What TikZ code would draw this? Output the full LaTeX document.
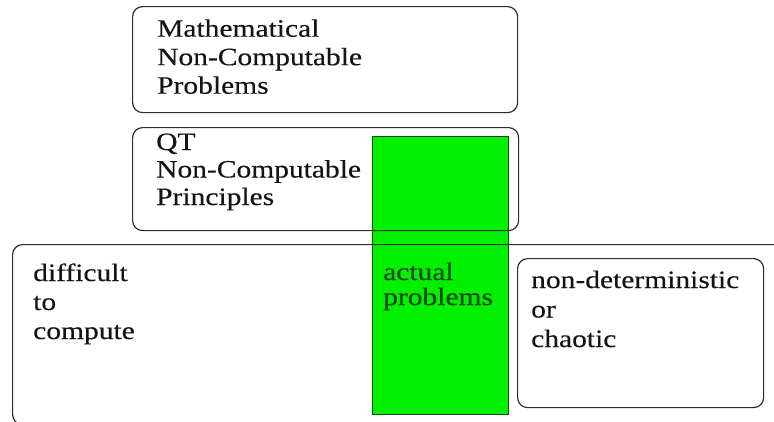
\documentclass[tikz,border=0pt]{standalone}
\usepackage{fontspec}
\newfontfamily\txtfont[FakeStretch=1.18,FakeBold=0.3]{Liberation Serif}
\definecolor{brd}{RGB}{45,45,45}
\definecolor{grn}{RGB}{0,240,0}
\definecolor{grnbrd}{RGB}{30,70,30}
\definecolor{grntxt}{RGB}{20,70,20}
\begin{document}
\begin{tikzpicture}[x=1pt,y=-1pt,
  box/.style={draw=brd,line width=1.2pt,rounded corners=10pt,inner sep=0pt,anchor=north west},
  lbl/.style={inner sep=0pt,anchor=base west,align=left,text=black!92,font=\txtfont\fontsize{25}{28.5}\selectfont},
  greenbar/.style={fill=grn,draw=grnbrd,line width=1.2pt,inner sep=0pt,anchor=north west}]
\useasboundingbox (0,0) rectangle (774,421);
\clip (0,0) rectangle (774,421);
% green column
\node[greenbar,minimum width=136pt,minimum height=278pt] (bar) at (372,136) {};
% boxes
\node[box,minimum width=385pt,minimum height=106pt] (math) at (132,6) {};
\node[box,minimum width=386pt,minimum height=103pt] (qt) at (132,127) {};
\node[box,minimum width=790pt,minimum height=180pt] (big) at (12,244) {};
\node[box,minimum width=246pt,minimum height=149pt] (nd) at (517,258) {};
% labels (anchored at the baseline of their last line)
\node[lbl] (tmath) at (157,93.7) {Mathematical\\Non-Computable\\Problems};
\node[lbl,font=\txtfont\fontsize{25}{27.5}\selectfont] (tqt) at (156,205) {QT\\Non-Computable\\Principles};
\node[lbl,font=\txtfont\fontsize{25}{29}\selectfont] (tdiff) at (33,339) {difficult\\to\\compute};
\node[lbl,text=grntxt,font=\txtfont\fontsize{25}{25}\selectfont] (tact) at (383,305) {actual\\problems};
\node[lbl,font=\txtfont\fontsize{25}{29.5}\selectfont] (tnd) at (531,347) {non-deterministic\\or\\chaotic};
\end{tikzpicture}
\end{document}
